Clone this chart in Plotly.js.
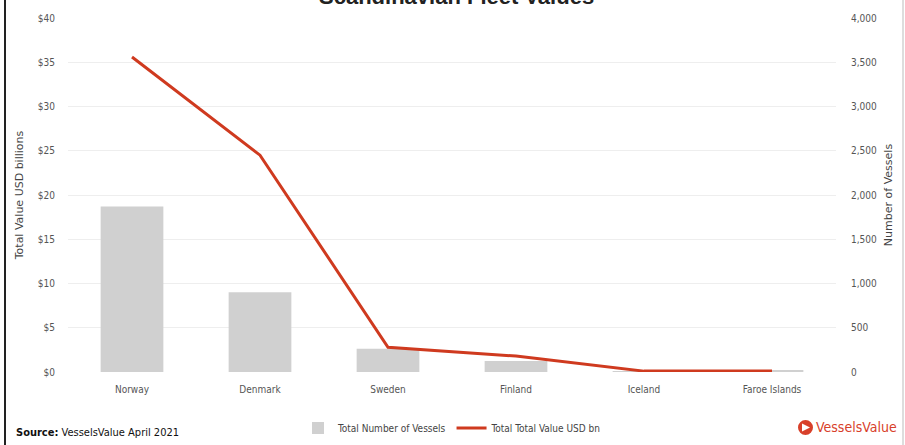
<!DOCTYPE html>
<html>
<head>
<meta charset="utf-8">
<script src="https://cdn.plot.ly/plotly-3.0.1.min.js"></script>
<style>
html,body{margin:0;padding:0;background:#fff;}
#chart{width:905px;height:445px;}
</style>
</head>
<body>
<div id="chart"></div>
<script>
const countries = ["Norway", "Denmark", "Sweden", "Finland", "Iceland", "Faroe Islands"];
const vessels = [1870, 900, 262, 125, 10, 22];
const valueBn = [35.6, 24.5, 2.8, 1.8, 0.1, 0.1];
const leftTicks = [0, 5, 10, 15, 20, 25, 30, 35, 40];
const leftTickText = ["$0", "$5", "$10", "$15", "$20", "$25", "$30", "$35", "$40"];
const rightTicks = [0, 500, 1000, 1500, 2000, 2500, 3000, 3500, 4000];

const FONT = "DejaVu Sans Condensed, Liberation Sans Narrow, Liberation Sans, sans-serif";
const L = 68, R = 836, T = 18, B = 372;
const px = x => (x - L) / (R - L);
const py = y => (B - y) / (B - T);

const traces = [
  {
    type: "bar", name: "Total Number of Vessels",
    x: countries, y: vessels, yaxis: "y",
    marker: {color: "#d0d0d0"}, width: 0.49
  },
  {
    type: "scatter", mode: "lines", name: "Total Total Value USD bn",
    x: countries, y: valueBn, yaxis: "y2",
    line: {color: "#cf3a1f", width: 3}
  }
];

const layout = {
  width: 905, height: 445,
  margin: {l: L, r: 905 - R, t: T, b: 445 - B, autoexpand: false},
  paper_bgcolor: "#ffffff", plot_bgcolor: "#ffffff",
  font: {family: FONT, size: 10, color: "#555"},
  showlegend: true,
  legend: {
    orientation: "h", x: 0.5, xanchor: "center", y: py(428), yanchor: "middle",
    font: {family: FONT, size: 10, color: "#444"},
    traceorder: "normal", itemwidth: 30
  },
  xaxis: {
    type: "category", showgrid: false, zeroline: false, showline: false,
    ticks: "", tickfont: {family: FONT, size: 10, color: "#555"},
    ticklabelstandoff: 10, automargin: false
  },
  yaxis: {
    side: "right", range: [0, 4000], tickvals: rightTicks,
    tickformat: ",d", showgrid: true, gridcolor: "#eeeeee", gridwidth: 1,
    zeroline: false, showline: false, ticks: "",
    tickfont: {family: FONT, size: 10, color: "#555"},
    ticklabelstandoff: 14, automargin: false,
    title: {text: "Number of Vessels", font: {family: "DejaVu Sans, sans-serif", size: 11, color: "#444"}, standoff: 8}
  },
  yaxis2: {
    overlaying: "y", side: "left", range: [0, 40], tickvals: leftTicks, ticktext: leftTickText,
    showgrid: false, zeroline: false, showline: false, ticks: "",
    tickfont: {family: FONT, size: 10, color: "#555"},
    ticklabelstandoff: 12, automargin: false,
    title: {text: "Total Value USD billions", font: {family: "DejaVu Sans, sans-serif", size: 11, color: "#444"}, standoff: 11}
  },
  annotations: [
    {
      xref: "paper", yref: "paper", x: px(456), y: py(-3), xanchor: "center", yanchor: "middle",
      text: "<b>Scandinavian Fleet Values</b>", showarrow: false,
      font: {family: "Liberation Sans, Arial, sans-serif", size: 22, color: "#222"}
    },
    {
      xref: "paper", yref: "paper", x: px(14), y: py(433), xanchor: "left", yanchor: "middle",
      text: "<b>Source:</b> VesselsValue April 2021", showarrow: false,
      font: {family: FONT, size: 11, color: "#111"}
    },
    {
      xref: "paper", yref: "paper", x: px(814), y: py(427), xanchor: "left", yanchor: "middle",
      text: "VesselsValue", showarrow: false,
      font: {family: FONT, size: 14, color: "#d8402a"}
    }
  ],
  shapes: [
    {type: "line", xref: "paper", yref: "paper", x0: px(5), x1: px(5), y0: py(-5), y1: py(450),
     line: {color: "#222", width: 2}},
    {type: "line", xref: "paper", yref: "paper", x0: px(903), x1: px(903), y0: py(-5), y1: py(450),
     line: {color: "#bbb", width: 1}},
    {type: "circle", xref: "paper", yref: "paper", x0: px(798), x1: px(813), y0: py(435), y1: py(420),
     fillcolor: "#d8402a", line: {width: 0}},
    {type: "path", xref: "paper", yref: "paper",
     path: "M " + px(802) + " " + py(423.5) + " L " + px(810) + " " + py(427.5) + " L " + px(802) + " " + py(431.5) + " Z",
     fillcolor: "#ffffff", line: {width: 0}}
  ]
};

Plotly.newPlot("chart", traces, layout, {displayModeBar: false, staticPlot: true});
</script>
</body>
</html>
